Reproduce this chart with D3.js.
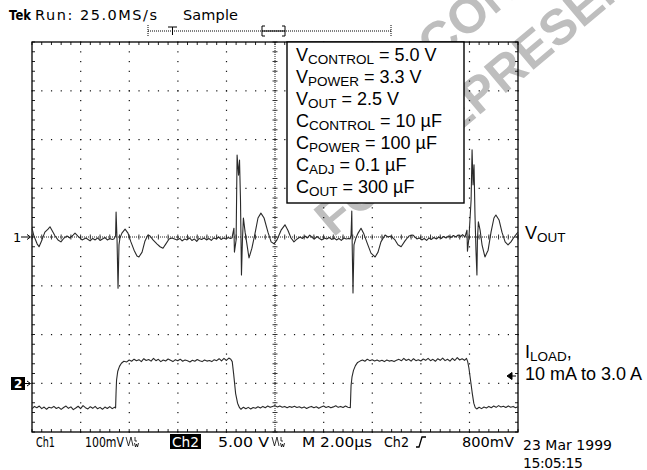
<!DOCTYPE html>
<html><head><meta charset="utf-8">
<script src="https://cdn.jsdelivr.net/npm/d3@7"></script>
<style>html,body{margin:0;padding:0;background:#fff;} svg{display:block}</style>
</head><body><svg id="c" width="647" height="470"></svg>
<script>
// ---------------- DATA ----------------
// Time axis: 2.00 µs/div, 10 divisions
const timeTicksUs = [0, 2, 4, 6, 8, 10, 12, 14, 16, 18, 20];
// CH1 (VOUT deviation, mV, 100 mV/div) ; 8 divisions
const voutTicksMv = [-400, -300, -200, -100, 0, 100, 200, 300, 400];
// CH1: VOUT ripple/transient [time µs, mV relative to 2.5 V]
const voutTrace = [
 [0,18],[0.08,2],[0.21,-14],[0.29,-20],[0.41,-6],[0.53,10],[0.66,16],[0.74,21],[0.82,14],[0.95,2],
 [1.07,-6],[1.19,-10],[1.32,-2],[1.44,2],[1.56,-2],[1.69,4],[1.77,8],[1.89,2],[2.06,-6],[2.22,-2],
 [2.39,-8],[2.5,-3],[2.6,-6],[2.7,-2],[2.8,-7],[2.9,-4],[3.0,-1],[3.1,-6],[3.2,-3],[3.3,-5],[3.37,-4],
 [3.44,2],[3.46,51],[3.5,-6],[3.54,-105],[3.58,-16],[3.62,-2],[3.7,8],[3.83,16],[3.95,8],[4.07,-10],
 [4.2,-27],[4.32,-39],[4.4,-41],[4.53,-31],[4.65,-8],[4.77,4],[4.86,2],[4.98,-6],[5.14,-14],[5.27,-20],
 [5.39,-23],[5.51,-14],[5.64,-4],[5.76,-2],[5.97,-6],
 [6.08,-3],[6.18,-8],[6.28,-4],[6.38,-6],[6.48,-2],[6.58,-7],[6.68,-4],[6.78,-9],[6.88,-3],[6.98,-5],
 [7.08,-2],[7.18,-6],[7.28,-3],[7.38,-7],[7.48,-2],[7.58,-4],[7.68,0],[7.78,-5],[7.88,-2],[7.98,-4],
 [8.08,-1],[8.16,-3],
 [8.23,-2],[8.31,18],[8.33,-31],[8.4,-6],[8.44,168],[8.5,127],[8.54,158],[8.58,76],[8.62,-78],[8.66,-6],
 [8.7,39],[8.77,10],[8.93,-43],[9.05,-23],[9.18,8],[9.3,39],[9.42,49],[9.55,39],[9.71,10],[9.84,-10],
 [9.96,-14],[10.08,-6],[10.25,14],[10.41,25],[10.53,14],[10.66,-2],[10.78,-10],[10.91,-4],[11.03,0],
 [11.13,-3],[11.23,2],[11.33,-2],[11.43,4],[11.53,-1],[11.63,-4],[11.73,1],[11.83,-3],[11.93,-6],[12.03,-2],
 [12.13,-4],[12.23,-1],[12.33,-5],[12.43,-2],[12.53,-6],[12.63,-3],[12.73,-7],[12.83,-2],[12.93,-4],[13.03,-3],
 [13.09,-4],[13.13,4],[13.16,53],[13.18,-27],[13.21,-115],[13.25,-16],[13.33,-2],[13.42,8],[13.54,18],[13.66,6],
 [13.79,-12],[13.95,-33],[14.12,-41],[14.24,-31],[14.36,-10],[14.53,4],[14.65,0],[14.77,2],[14.94,-6],[15.06,-16],
 [15.19,-20],[15.35,-8],[15.51,2],[15.68,4],[15.84,-4],
 [15.94,-2],[16.04,-6],[16.14,-3],[16.24,-7],[16.34,-2],[16.44,-5],[16.54,-1],[16.64,-4],[16.74,0],[16.84,-3],
 [16.94,1],[17.04,-2],[17.14,2],[17.24,-1],[17.34,3],[17.44,0],[17.54,4],[17.64,1],[17.72,5],[17.78,2],
 [17.82,0],[17.9,14],[17.92,-29],[17.98,-2],[18.07,76],[18.11,179],[18.15,107],[18.19,148],[18.23,45],[18.27,-27],
 [18.31,-78],[18.33,-6],[18.37,31],[18.44,14],[18.52,-16],[18.64,-41],[18.77,-27],[18.89,10],[19.01,39],[19.09,45],
 [19.22,35],[19.34,10],[19.47,-10],[19.59,-16],[19.71,-10],[19.84,0],[20,10]
];
// CH2: load current [time µs, A] (10 mA to 3.0 A steps)
const iloadTrace = [
 [0,-0.05],[0.1,0.1],[0.2,0.02],[0.3,0.12],[0.4,-0.04],[0.5,0.06],[0.6,-0.08],[0.7,0.05],[0.8,0.0],[0.9,0.1],
 [1.0,-0.03],[1.1,0.04],[1.2,-0.09],[1.3,0.03],[1.4,0.12],[1.5,-0.02],[1.6,0.07],[1.7,-0.1],[1.8,0.0],[1.9,0.11],
 [2.0,-0.04],[2.1,0.15],[2.2,0.02],[2.3,-0.06],[2.4,0.08],[2.5,-0.02],[2.6,0.1],[2.7,-0.05],[2.8,0.04],[2.9,-0.08],
 [3.0,0.06],[3.1,-0.03],[3.2,0.09],[3.3,-0.04],[3.4,0.05],[3.44,0.0],
 [3.46,1.0],[3.48,1.75],[3.53,2.3],[3.6,2.6],[3.68,2.8],[3.78,2.92],
 [3.9,2.88],[4.0,3.0],[4.1,2.92],[4.2,3.05],[4.3,2.95],[4.4,3.02],[4.5,2.9],[4.6,3.08],[4.7,2.97],[4.8,3.03],
 [4.9,2.93],[5.0,3.1],[5.1,2.96],[5.2,3.04],[5.3,2.9],[5.4,3.0],[5.5,2.94],[5.6,3.06],[5.7,2.98],[5.8,2.9],
 [5.9,3.02],[6.0,2.95],[6.1,3.05],[6.2,2.92],[6.3,3.0],[6.4,2.95],[6.5,2.88],[6.6,2.98],[6.7,2.92],[6.8,3.03],
 [6.9,2.95],[7.0,2.9],[7.1,3.0],[7.2,2.93],[7.3,2.97],[7.4,2.9],[7.5,3.02],[7.6,2.96],[7.7,3.08],[7.8,2.94],
 [7.9,3.1],[8.0,2.97],[8.1,3.12],[8.18,3.05],
 [8.24,2.9],[8.3,2.1],[8.38,0.9],[8.46,0.3],[8.54,0.02],
 [8.6,-0.08],[8.7,0.05],[8.8,-0.05],[8.9,0.04],[9.0,-0.06],[9.1,0.03],[9.2,-0.02],[9.3,0.08],[9.4,0.0],[9.5,0.1],
 [9.6,0.02],[9.7,0.12],[9.8,0.04],[9.9,0.1],[10.0,0.15],[10.1,0.06],[10.2,0.13],[10.3,0.05],[10.4,0.1],[10.5,0.02],
 [10.6,0.09],[10.7,0.04],[10.8,0.11],[10.9,0.03],[11.0,0.08],[11.1,0.0],[11.2,0.07],[11.3,-0.03],[11.4,0.05],[11.5,0.1],
 [11.6,0.02],[11.7,0.08],[11.8,-0.02],[11.9,0.06],[12.0,0.12],[12.1,0.03],[12.2,0.09],[12.3,0.01],[12.4,0.07],[12.5,0.14],
 [12.6,0.04],[12.7,0.1],[12.8,0.03],[12.9,0.12],[13.0,0.05],[13.1,0.02],
 [13.13,1.4],[13.17,1.95],[13.23,2.35],[13.31,2.65],[13.4,2.85],[13.5,2.93],
 [13.6,3.0],[13.7,2.92],[13.8,3.05],[13.9,2.96],[14.0,3.02],[14.1,2.94],[14.2,3.0],[14.3,2.92],[14.4,2.98],[14.5,2.9],
 [14.6,3.0],[14.7,2.93],[14.8,2.97],[14.9,2.9],[15.0,2.98],[15.1,3.04],[15.2,2.95],[15.3,3.1],[15.4,2.97],[15.5,3.05],
 [15.6,2.93],[15.7,3.08],[15.8,2.96],[15.9,3.02],[16.0,2.94],[16.1,3.06],[16.2,2.98],[16.3,3.1],[16.4,2.96],[16.5,3.04],
 [16.6,2.92],[16.7,3.08],[16.8,2.98],[16.9,3.12],[17.0,2.96],[17.1,3.05],[17.2,2.93],[17.3,3.1],[17.4,2.97],[17.5,3.15],
 [17.6,3.0],[17.7,3.08],[17.8,2.98],[17.88,3.1],
 [17.93,2.9],[17.98,2.5],[18.05,1.7],[18.12,0.9],[18.18,0.3],[18.24,0.02],
 [18.3,-0.06],[18.4,0.05],[18.5,-0.04],[18.6,0.06],[18.7,0.0],[18.8,0.1],[18.9,0.02],[19.0,0.12],[19.1,0.04],[19.2,0.15],
 [19.3,0.06],[19.4,0.11],[19.5,0.03],[19.6,0.13],[19.7,0.05],[19.8,0.1],[19.9,0.02],[20.0,0.08]
];
const conditionLabels = [
 ["V","CONTROL"," = 5.0 V"],
 ["V","POWER"," = 3.3 V"],
 ["V","OUT"," = 2.5 V"],
 ["C","CONTROL"," = 10 µF"],
 ["C","POWER"," = 100 µF"],
 ["C","ADJ"," = 0.1 µF"],
 ["C","OUT"," = 300 µF"]
];
const headerTexts = ["Tek", "Run: 25.0MS/s", "Sample"];
const statusTexts = ["Ch1", "100mV", "Ch2", "5.00 V", "M 2.00µs", "Ch2", "800mV"];
const dateTexts = ["23 Mar 1999", "15:05:15"];
const watermarkTexts = ["CONTACT", "FOR REPRESENTATIVE"];

// ---------------- DRAW ----------------
const svg = d3.select('#c');
const x = d3.scaleLinear().domain([0, 20]).range([32, 518]);
const y1 = d3.scaleLinear().domain([-400, 400]).range([432, 42]);
const y2 = d3.scaleLinear().domain([0, 3]).range([408, 360]);
const minorX = d3.range(0, 20.0001, 0.4);
const minorY = d3.range(-400, 400.0001, 20);
const SANS = "'Liberation Sans', Arial, Helvetica, sans-serif";
const SCOPE = "'DejaVu Sans', Verdana, sans-serif";

// watermark (behind everything)
const wm = svg.append('g').attr('fill', '#bebebe').attr('font-family', SANS)
  .attr('font-weight', 'bold').attr('font-size', 50);
wm.append('text').attr('transform', 'translate(436,64) rotate(-40)').text(watermarkTexts[0]);
wm.append('text').attr('transform', 'translate(333,238) rotate(-40)').text(watermarkTexts[1]);

// graticule
const g = svg.append('g');
timeTicksUs.filter(t => t > 0 && t < 20 && t !== 10).forEach(t => {
  minorY.forEach(m => g.append('rect').attr('x', x(t) - 0.5).attr('y', y1(m) - 0.5)
    .attr('width', 1.2).attr('height', 1.2).attr('fill', '#111'));
});
voutTicksMv.filter(v => v > -400 && v < 400 && v !== 0).forEach(v => {
  minorX.forEach(m => g.append('rect').attr('x', x(m) - 0.5).attr('y', y1(v) - 0.5)
    .attr('width', 1.2).attr('height', 1.2).attr('fill', '#111'));
});
g.append('line').attr('x1', x(10)).attr('x2', x(10)).attr('y1', y1(400)).attr('y2', y1(-400))
  .attr('stroke', '#222').attr('stroke-width', 1).attr('stroke-dasharray', '1,1');
g.append('line').attr('x1', x(0)).attr('x2', x(20)).attr('y1', y1(0)).attr('y2', y1(0))
  .attr('stroke', '#222').attr('stroke-width', 1).attr('stroke-dasharray', '1,1');
minorY.forEach(m => g.append('line').attr('x1', x(10) - 2.5).attr('x2', x(10) + 2.5)
  .attr('y1', y1(m)).attr('y2', y1(m)).attr('stroke', '#222').attr('stroke-width', 0.9));
minorX.forEach(m => g.append('line').attr('y1', y1(0) - 2.5).attr('y2', y1(0) + 2.5)
  .attr('x1', x(m)).attr('x2', x(m)).attr('stroke', '#222').attr('stroke-width', 0.9));
minorX.forEach(m => {
  g.append('line').attr('x1', x(m)).attr('x2', x(m)).attr('y1', y1(400)).attr('y2', y1(400) + 3).attr('stroke', '#222');
  g.append('line').attr('x1', x(m)).attr('x2', x(m)).attr('y1', y1(-400)).attr('y2', y1(-400) - 3).attr('stroke', '#222');
});
minorY.forEach(m => {
  g.append('line').attr('x1', x(0)).attr('x2', x(0) + 3).attr('y1', y1(m)).attr('y2', y1(m)).attr('stroke', '#222');
  g.append('line').attr('x1', x(20)).attr('x2', x(20) - 3).attr('y1', y1(m)).attr('y2', y1(m)).attr('stroke', '#222');
});
g.append('rect').attr('x', x(0)).attr('y', y1(400)).attr('width', x(20) - x(0)).attr('height', y1(-400) - y1(400))
  .attr('fill', 'none').attr('stroke', '#000').attr('stroke-width', 1.3);

// condition box
const bx = 287, by = y1(400), bw = 177, bh = 161;
svg.append('rect').attr('x', bx).attr('y', by).attr('width', bw).attr('height', bh)
  .attr('fill', '#fff').attr('stroke', '#000').attr('stroke-width', 1.4);
conditionLabels.forEach((l, i) => {
  const t = svg.append('text').attr('x', 296).attr('y', 61 + i * 22)
    .attr('font-family', SANS).attr('font-size', 18).attr('fill', '#000');
  t.append('tspan').text(l[0]);
  t.append('tspan').attr('font-size', 13.5).attr('dy', 3).text(l[1]);
  t.append('tspan').attr('dy', -3).text(l[2]);
});

// traces
svg.append('path').attr('d', d3.line().x(d => x(d[0])).y(d => y1(d[1]))(voutTrace))
  .attr('fill', 'none').attr('stroke', '#2a2a2a').attr('stroke-width', 1.1).attr('stroke-linejoin', 'round');
svg.append('path').attr('d', d3.line().x(d => x(d[0])).y(d => y2(d[1]))(iloadTrace))
  .attr('fill', 'none').attr('stroke', '#2a2a2a').attr('stroke-width', 1.1).attr('stroke-linejoin', 'round');

// header
svg.append('text').attr('x', 9).attr('y', 20).attr('font-family', SCOPE).attr('font-weight', 'bold')
  .attr('font-size', 14).attr('textLength', 22).attr('lengthAdjust', 'spacingAndGlyphs').text(headerTexts[0]);
svg.append('text').attr('x', 35).attr('y', 20).attr('font-family', SCOPE)
  .attr('font-size', 14.5).attr('textLength', 122).text(headerTexts[1]);
svg.append('text').attr('x', 183).attr('y', 20).attr('font-family', SCOPE)
  .attr('font-size', 14.5).attr('textLength', 55).text(headerTexts[2]);
const mk = svg.append('g').attr('stroke', '#000').attr('fill', 'none');
mk.append('line').attr('x1', 148).attr('x2', 391).attr('y1', 31).attr('y2', 31).attr('stroke-dasharray', '1,1');
mk.append('line').attr('x1', 148).attr('x2', 148).attr('y1', 25).attr('y2', 37).attr('stroke-dasharray', '1,1');
mk.append('line').attr('x1', 391).attr('x2', 391).attr('y1', 25).attr('y2', 37).attr('stroke-dasharray', '1,1');
mk.append('path').attr('d', 'M168,27 H177 M172.5,27 V35');
mk.append('line').attr('x1', 262).attr('x2', 285).attr('y1', 31).attr('y2', 31);
mk.append('path').attr('d', 'M265,26 H262 V36 H265 M282,26 H285 V36 H282');

// channel markers
svg.append('text').attr('x', 13).attr('y', 242).attr('font-family', SCOPE).attr('font-size', 13).text('1');
svg.append('path').attr('d', 'M21,237 H30 M27,234.5 L30.5,237 L27,239.5').attr('stroke', '#000').attr('fill', 'none');
svg.append('rect').attr('x', 11).attr('y', 377).attr('width', 14).attr('height', 13).attr('fill', '#000');
svg.append('text').attr('x', 14).attr('y', 388).attr('font-family', SCOPE).attr('font-weight', 'bold')
  .attr('font-size', 12).attr('fill', '#fff').text('2');
svg.append('path').attr('d', 'M24,383.5 H30 M27,381 L30.5,383.5 L27,386').attr('stroke', '#000').attr('fill', 'none');
svg.append('path').attr('d', 'M507,376 L512,372.5 L512,379.5 Z M512,376 H516').attr('stroke', '#000').attr('fill', '#000');

// right labels
const vo = svg.append('text').attr('x', 525).attr('y', 239).attr('font-family', SANS).attr('font-size', 18);
vo.append('tspan').text('V'); vo.append('tspan').attr('font-size', 13.5).attr('dy', 3).text('OUT');
const il = svg.append('text').attr('x', 525).attr('y', 358).attr('font-family', SANS).attr('font-size', 18);
il.append('tspan').text('I'); il.append('tspan').attr('font-size', 13.5).attr('dy', 3).text('LOAD');
il.append('tspan').attr('dy', -3).text(',');
svg.append('text').attr('x', 525).attr('y', 380).attr('font-family', SANS).attr('font-size', 18).text('10 mA to 3.0 A');

// status row
const sy = 447;
const st = (txt, xx, len, col) => svg.append('text').attr('x', xx).attr('y', sy).attr('font-family', SCOPE)
  .attr('font-size', 14.5).attr('textLength', len).attr('lengthAdjust', 'spacingAndGlyphs')
  .attr('fill', col || '#000').text(txt);
st(statusTexts[0], 36, 19);
st(statusTexts[1], 85, 39);
svg.append('rect').attr('x', 170).attr('y', 434).attr('width', 31).attr('height', 15).attr('fill', '#000');
st(statusTexts[2], 172, 27, '#fff');
st(statusTexts[3], 218, 51);
st(statusTexts[4], 302, 70);
st(statusTexts[5], 384, 25);
st(statusTexts[6], 462, 52);
// bandwidth-limit icons (drawn glyph)
[126, 272].forEach(bxx => {
  svg.append('path')
    .attr('d', `M${bxx},437 L${bxx + 2.5},446 L${bxx + 5},437 L${bxx + 7},446 ` +
               `M${bxx + 9},437 V441 H${bxx + 11} M${bxx + 8.5},443 L${bxx + 9.5},447 L${bxx + 10.5},444 L${bxx + 11.5},447 L${bxx + 12.5},443`)
    .attr('stroke', '#000').attr('fill', 'none').attr('stroke-width', 0.8);
});
svg.append('path').attr('d', 'M416,447 H419 L422,437 H426').attr('stroke', '#000').attr('fill', 'none').attr('stroke-width', 1.3);
svg.append('text').attr('x', 523).attr('y', 450).attr('font-family', SCOPE).attr('font-size', 14)
  .attr('textLength', 89).text(dateTexts[0]);
svg.append('text').attr('x', 523).attr('y', 468).attr('font-family', SCOPE).attr('font-size', 14)
  .attr('textLength', 60).text(dateTexts[1]);
</script></body></html>
